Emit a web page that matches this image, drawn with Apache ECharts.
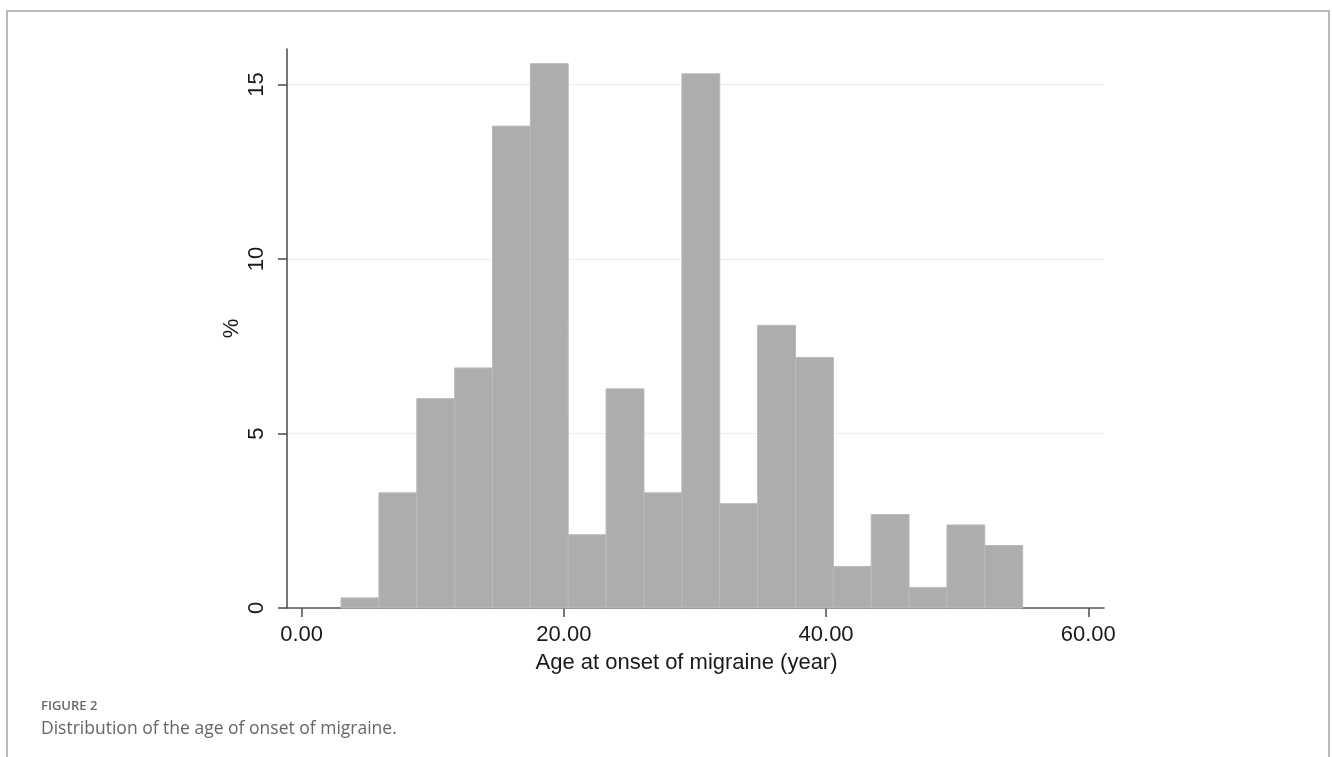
<!DOCTYPE html>
<html>
<head>
<meta charset="utf-8">
<script src="https://cdn.jsdelivr.net/npm/echarts@6/dist/echarts.min.js"></script>
<style>
html,body{margin:0;padding:0;background:#fff;}
#chart{width:1332px;height:757px;}
</style>
</head>
<body>
<div id="chart"></div>
<script>
// Histogram bin edges (age, years) and bar heights (%)
const binEdges = [3.00, 5.89, 8.78, 11.67, 14.56, 17.44, 20.33, 23.22, 26.11, 29.00, 31.89, 34.78, 37.67, 40.56, 43.44, 46.33, 49.22, 52.11, 55.00];
const percents = [0.29, 3.30, 6.00, 6.88, 13.81, 15.60, 2.10, 6.28, 3.30, 15.31, 2.99, 8.10, 7.18, 1.19, 2.68, 0.59, 2.38, 1.79];
const xTicks = [0, 20, 40, 60];
const yTicks = [0, 5, 10, 15];
const xTitle = 'Age at onset of migraine (year)';
const yTitle = '%';
const figLabel = 'FIGURE 2';
const caption = 'Distribution of the age of onset of migraine.';

const barData = percents.map((v, i) => [binEdges[i], binEdges[i + 1], v]);

const chart = echarts.init(document.getElementById('chart'), null, {renderer: 'canvas'});
const axisFont = 'Liberation Sans, Arial, sans-serif';
chart.setOption({
  animation: false,
  backgroundColor: '#ffffff',
  grid: {left: 287, right: 228, top: 49, bottom: 149, containLabel: false, outerBoundsMode: 'none'},
  xAxis: {
    type: 'value',
    min: -1.12,
    max: 61.2,
    name: xTitle,
    nameLocation: 'middle',
    nameGap: 44,
    nameMoveOverlap: false,
    nameTextStyle: {fontFamily: axisFont, fontSize: 22, color: '#1a1a1a', padding: [0, 18, 0, 0]},
    axisLine: {show: true, onZero: false, lineStyle: {color: '#555', width: 1.6}},
    axisTick: {show: true, length: 9, customValues: xTicks, lineStyle: {color: '#555', width: 1.6}},
    axisLabel: {customValues: xTicks, margin: 16, fontFamily: axisFont, fontSize: 22, color: '#1a1a1a',
      formatter: v => Number(v).toFixed(2)},
    splitLine: {show: false}
  },
  yAxis: {
    type: 'value',
    min: 0,
    max: 16.02,
    name: yTitle,
    nameLocation: 'middle',
    nameGap: 44,
    nameMoveOverlap: false,
    nameTextStyle: {fontFamily: axisFont, fontSize: 22, color: '#1a1a1a'},
    axisLine: {show: true, onZero: false, lineStyle: {color: '#555', width: 1.6}},
    axisTick: {show: true, length: 9, customValues: yTicks, lineStyle: {color: '#555', width: 1.6}},
    axisLabel: {customValues: yTicks, rotate: 90, margin: 19, fontFamily: axisFont, fontSize: 22, color: '#1a1a1a'},
    splitLine: {show: true, lineStyle: {color: '#eceef1', width: 1.2}}
  },
  series: [{
    type: 'custom',
    z: 3,
    data: barData,
    encode: {x: [0, 1], y: 2},
    renderItem: function (params, api) {
      const p0 = api.coord([api.value(0), 0]);
      const p1 = api.coord([api.value(1), api.value(2)]);
      return {
        type: 'rect',
        shape: {x: p0[0], y: p1[1], width: p1[0] - p0[0], height: p0[1] - p1[1]},
        style: {fill: '#adadad', stroke: '#bababa', lineWidth: 1}
      };
    }
  }],
  graphic: [
    {type: 'rect', z: 0, silent: true,
      shape: {x: 7, y: 11, width: 1322, height: 800},
      style: {fill: null, stroke: '#a3a3a3', lineWidth: 1.5}},
    {type: 'text', left: 41, top: 700,
      style: {text: figLabel, fontFamily: 'Open Sans, sans-serif', fontSize: 13, fontWeight: 600, fill: '#6a6a6a'}},
    {type: 'text', left: 41, top: 720,
      style: {text: caption, fontFamily: 'Open Sans, sans-serif', fontSize: 17.5, fill: '#666666'}}
  ]
});
</script>
</body>
</html>
